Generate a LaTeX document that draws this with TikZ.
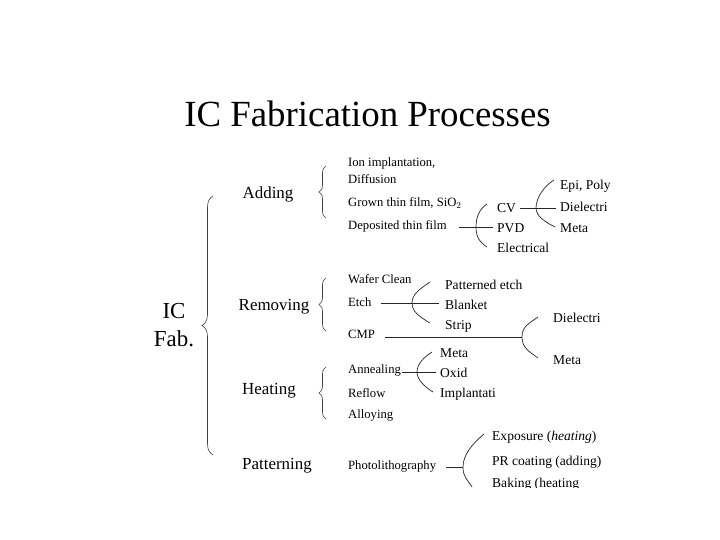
\documentclass[tikz,border=0pt]{standalone}
\usepackage{fontspec}
\setmainfont{Liberation Serif}
\usetikzlibrary{decorations.pathreplacing, calc}

\tikzset{
  titletext/.style={font=\fontsize{37}{40}\selectfont, inner sep=0pt},
  rootnode/.style={align=center, font=\fontsize{23}{28}\selectfont, inner sep=0pt},
  groupnode/.style={inner sep=0pt, font=\fontsize{17}{20}\selectfont},
  itemnode/.style={anchor=west, inner sep=0pt, font=\fontsize{12.7}{15}\selectfont},
  subnode/.style={anchor=west, inner sep=0pt, font=\fontsize{13.6}{15}\selectfont},
  bracebig/.style={decorate, decoration={brace, amplitude=11bp}, line width=0.6bp, black!75},
  bracesmall/.style={decorate, decoration={brace, amplitude=7bp}, line width=0.6bp, black!75},
  branch/.style={line width=0.7bp, black!85}
}

\begin{document}
\begin{tikzpicture}[x=1bp, y=-1bp]

  \useasboundingbox (0,0) rectangle (720,540);

  \begin{scope}
  \clip (0,0) rectangle (720,487);

  % title and root
  \node[titletext, anchor=base] (title) at (367.5,127) {IC Fabrication Processes};
  \node[rootnode] (root) at (174,325) {IC\\Fab.};

  % process groups
  \node[groupnode] (adding) at (268,194) {Adding};
  \node[groupnode] (removing) at (274,307) {Removing};
  \node[groupnode] (heating) at (269,391) {Heating};
  \node[groupnode] (patterning) at (277,466) {Patterning};

  \draw[bracebig] (213,455) -- (213,196);
  \draw[bracesmall] (326,218) -- (326,166);
  \draw[bracesmall] (326,331) -- (326,278);
  \draw[bracesmall] (326,419) -- (326,367);

  % adding
  \node[itemnode] (ion) at (348,163) {Ion implantation,};
  \node[itemnode] (diff) at (348,179) {Diffusion};
  \node[itemnode] (grown) at (348,203) {Grown thin film, SiO$_2$};
  \node[itemnode] (depo) at (348,226) {Deposited thin film};

  \node[subnode] (cv) at (497,208) {CV};
  \node[subnode] (pvd) at (497,228) {PVD};
  \node[subnode] (elec) at (497,248) {Electrical};

  \node[subnode] (epi) at (560,186) {Epi, Poly};
  \node[subnode] (diela) at (560,207) {Dielectri};
  \node[subnode] (metaa) at (560,228) {Meta};

  \coordinate (vdepo) at (476,227);
  \draw[branch] ([xshift=12]depo.east |- vdepo) -- ([xshift=-4]pvd.west |- vdepo);
  \draw[branch] ([shift={(-10,-4)}]cv.west) .. controls +(-8,5) and +(0,-9) .. (vdepo)
    .. controls +(0,9) and +(-8,-5) .. ([shift={(-10,-1)}]elec.west);

  \coordinate (vcv) at (536,208);
  \draw[branch] ([xshift=4]cv.east |- vcv) -- ([xshift=-4]diela.west |- vcv);
  \draw[branch] ([shift={(-6,-6)}]epi.west) .. controls +(-10,6) and +(0,-10) .. (vcv)
    .. controls +(0,8) and +(-10,-5) .. ([shift={(-5,-1)}]metaa.west);

  % removing
  \node[itemnode] (wafer) at (348,279) {Wafer Clean};
  \node[itemnode] (etch) at (348,302) {Etch};
  \node[itemnode] (cmp) at (348,334) {CMP};

  \node[subnode] (patt) at (445,285) {Patterned etch};
  \node[subnode] (blank) at (445,305) {Blanket};
  \node[subnode] (strip) at (445,326) {Strip};

  \coordinate (vetch) at (412,303);
  \draw[branch] ([xshift=9]etch.east |- vetch) -- ([xshift=-6]blank.west |- vetch);
  \draw[branch] ([shift={(-15,-3)}]patt.west) .. controls +(-10,7) and +(0,-9) .. (vetch)
    .. controls +(0,9) and +(-10,-6) .. ([shift={(-15,-3)}]strip.west);

  \node[subnode] (dielb) at (553,318) {Dielectri};
  \node[subnode] (metab) at (553,360) {Meta};

  \coordinate (vcmp) at (522,337);
  \draw[branch] ([xshift=10]cmp.east |- vcmp) -- (vcmp);
  \draw[branch] ([shift={(-15,-1)}]dielb.west) .. controls +(-10,7) and +(0,-10) .. (vcmp)
    .. controls +(0,10) and +(-10,-7) .. ([shift={(-15,-2)}]metab.west);

  % heating
  \node[itemnode] (anneal) at (348,370) {Annealing};
  \node[itemnode] (reflow) at (348,393) {Reflow};
  \node[itemnode] (alloy) at (348,415) {Alloying};

  \node[subnode] (metac) at (440,353) {Meta};
  \node[subnode] (oxid) at (440,373) {Oxid};
  \node[subnode] (impl) at (440,394) {Implantati};

  \coordinate (vann) at (417,372);
  \draw[branch] ([xshift=1]anneal.east |- vann) -- ([xshift=-4]oxid.west |- vann);
  \draw[branch] ([shift={(-8,-1)}]metac.west) .. controls +(-8,5) and +(0,-8) .. (vann)
    .. controls +(0,8) and +(-8,-5) .. ([shift={(-7,-2)}]impl.west);

  % patterning
  \node[itemnode] (photo) at (348,466) {Photolithography};

  \node[subnode] (expo) at (492,437) {Exposure (\textit{heating})};
  \node[subnode] (prcoat) at (492,462) {PR coating (adding)};
  \node[subnode] (bake) at (492,484) {Baking (heating};

  \coordinate (vphoto) at (463,467);
  \draw[branch] ([xshift=10]photo.east |- vphoto) -- (vphoto);
  \draw[branch] ([shift={(-8,-3)}]expo.west) .. controls +(-12,10) and +(0,-12) .. (vphoto)
    .. controls +(0,10) and +(-5,-8) .. ([shift={(-20,3)}]bake.west);

  \end{scope}

\end{tikzpicture}
\end{document}
